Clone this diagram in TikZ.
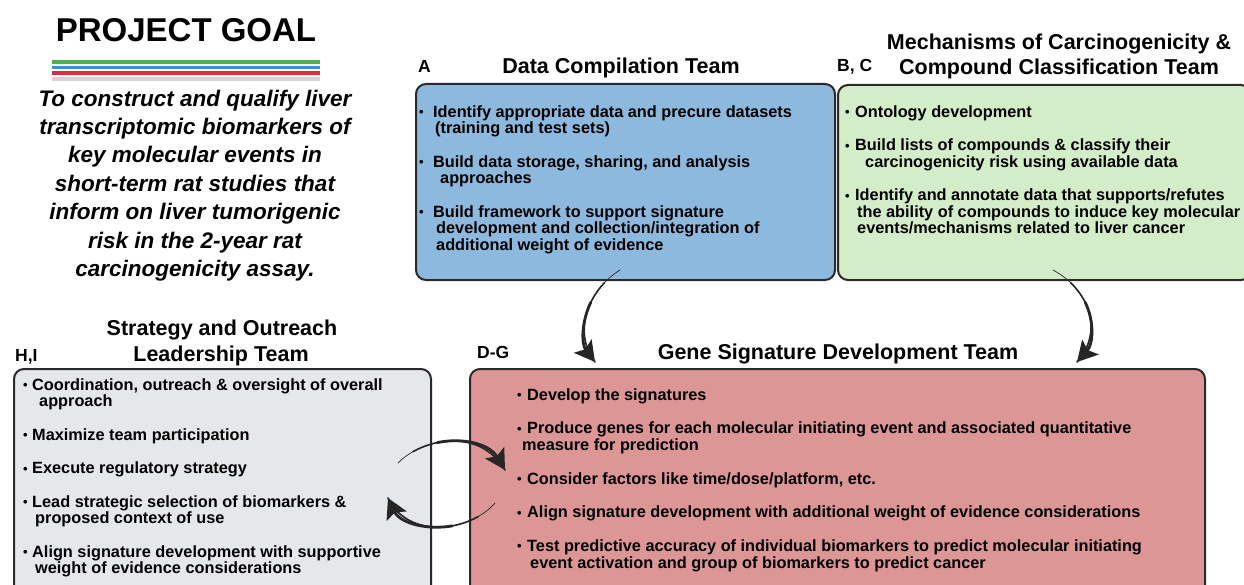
\documentclass[tikz,border=0pt]{standalone}
\usepackage{fontspec}
\setmainfont{Liberation Sans}
\usetikzlibrary{arrows.meta,calc}
\definecolor{colA}{HTML}{8DB9DE}
\definecolor{colB}{HTML}{D3EDC8}
\definecolor{colH}{HTML}{E6E7EA}
\definecolor{colD}{HTML}{DD9696}
\definecolor{edgec}{HTML}{2A2A2A}
\definecolor{arrowc}{HTML}{262626}
\definecolor{lineG}{HTML}{4CAF50}
\definecolor{lineB}{HTML}{428CD6}
\definecolor{lineR}{HTML}{D03438}
\definecolor{lineY}{HTML}{D2D2D7}
\newcommand{\bulit}[1]{\makebox[#1][l]{\raisebox{0.6pt}{\fontsize{13}{13}\selectfont •}}}
\newcommand{\indt}[1]{\hspace*{#1}}
\newcommand{\firstl}{\rule{0pt}{13pt}}
\tikzset{
  teambox/.style={draw=edgec, line width=2pt, rounded corners=10pt, anchor=north west, inner sep=0pt},
  bodytext/.style={anchor=north west, inner sep=0pt, align=left, font=\fontsize{16.3}{16.5}\selectfont\bfseries},
  titletext/.style={anchor=base, inner sep=0pt, font=\fontsize{21.5}{25}\selectfont\bfseries},
  lettertext/.style={anchor=base west, inner sep=0pt, font=\fontsize{17.5}{20}\selectfont\bfseries},
  goalline/.style={line width=3.5pt},
  thinpart/.style={draw=arrowc, line width=0.7pt, line cap=round},
  midpart/.style={draw=arrowc, line width=1.6pt, line cap=round},
  thickpart/.style={draw=arrowc, line width=2.8pt, line cap=round, -{Stealth[length=20pt,width=22pt,inset=4pt]}},
}
% draw the part of the cubic #1 #2 #3 #4 from fraction #5 to its end, in style #6
\newcommand{\subcurve}[6]{%
  \path ($(#1)!#5!(#2)$) coordinate (q01) ($(#2)!#5!(#3)$) coordinate (q12) ($(#3)!#5!(#4)$) coordinate (q23);
  \path ($(q01)!#5!(q12)$) coordinate (q012) ($(q12)!#5!(q23)$) coordinate (q123);
  \path ($(q012)!#5!(q123)$) coordinate (q0123);
  \draw[#6] (q0123) .. controls (q123) and (q23) .. (#4);
}
\newcommand{\taper}[4]{%
  \draw[thinpart] (#1) .. controls (#2) and (#3) .. (#4);
  \subcurve{#1}{#2}{#3}{#4}{0.18}{midpart}
  \subcurve{#1}{#2}{#3}{#4}{0.4}{thickpart}
}
\begin{document}
\begin{tikzpicture}[x=1pt,y=-1pt]
\useasboundingbox (0,0) rectangle (1244,585);
\fill[white] (0,0) rectangle (1244,585);

% project goal
\node[inner sep=0pt, font=\fontsize{33}{36}\selectfont\bfseries] (goaltitle) at (186,30) {PROJECT GOAL};
\draw[goalline, lineG] (52,62) -- (320,62);
\draw[goalline, lineB] (52,67.5) -- (320,67.5);
\draw[goalline, lineR] (52,73) -- (320,73);
\draw[goalline, lineY] (52,79) -- (320,79);
\node[anchor=north, inner sep=0pt, align=center, font=\fontsize{22.5}{28.4}\selectfont\bfseries\itshape] (goaltext) at (195,88)
 {\rule{0pt}{18pt}To construct and qualify liver\\
  transcriptomic biomarkers of\\
  key molecular events in\\
  short-term rat studies that\\
  inform on liver tumorigenic\\
  risk in the 2-year rat\\
  carcinogenicity assay.};

% boxes
\node[teambox, fill=colA, minimum width=419pt, minimum height=196pt] (boxA) at (415,83) {};
\node[teambox, fill=colB, minimum width=413pt, minimum height=195pt] (boxB) at (837,84) {};
\node[teambox, fill=colH, minimum width=417pt, minimum height=230pt] (boxH) at (13,368) {};
\node[teambox, fill=colD, minimum width=735pt, minimum height=230pt] (boxD) at (469,368) {};

% titles
\node[lettertext] (labA) at (418,73) {A};
\node[titletext] (titleA) at (621,73.5) {Data Compilation Team};
\node[lettertext] (labB) at (837,72) {B, C};
\node[titletext] (titleB1) at (1059,49.5) {Mechanisms of Carcinogenicity \&};
\node[titletext] (titleB2) at (1059,74.5) {Compound Classification Team};
\node[lettertext] (labH) at (15,361) {H,I};
\node[titletext] (titleH1) at (222,335) {Strategy and Outreach};
\node[titletext] (titleH2) at (221,361) {Leadership Team};
\node[lettertext] (labD) at (477,358) {D-G};
\node[titletext] (titleD) at (838,359.5) {Gene Signature Development Team};

% body texts
\node[bodytext] (textA) at (419,104) {%
\firstl\bulit{14pt}Identify appropriate data and precure datasets\\
\indt{16pt}(training and test sets)\\[17pt]
\bulit{14pt}Build data storage, sharing, and analysis\\
\indt{21pt}approaches\\[17pt]
\bulit{14pt}Build framework to support signature\\
\indt{17pt}development and collection/integration of\\
\indt{17pt}additional weight of evidence};

\node[bodytext] (textB) at (845,104) {%
\firstl\bulit{10pt}Ontology development\\[17pt]
\bulit{10pt}Build lists of compounds \& classify their\\
\indt{20pt}carcinogenicity risk using available data\\[17pt]
\bulit{10pt}Identify and annotate data that supports/refutes\\
\indt{12pt}the ability of compounds to induce key molecular\\
\indt{12pt}events/mechanisms related to liver cancer};

\node[bodytext] (textH) at (23,377) {%
\firstl\bulit{9pt}Coordination, outreach \& oversight of overall\\
\indt{16pt}approach\\[17pt]
\bulit{9pt}Maximize team participation\\[17pt]
\bulit{9pt}Execute regulatory strategy\\[17pt]
\bulit{9pt}Lead strategic selection of biomarkers \&\\
\indt{12pt}proposed context of use\\[17pt]
\bulit{9pt}Align signature development with supportive\\
\indt{12pt}weight of evidence considerations};

\node[bodytext, font=\fontsize{16.3}{17}\selectfont\bfseries] (textD) at (517,387) {%
\firstl\bulit{10pt}Develop the signatures\\[16.5pt]
\bulit{10pt}Produce genes for each molecular initiating event and associated quantitative\\
\indt{5pt}measure for prediction\\[16.5pt]
\bulit{10pt}Consider factors like time/dose/platform, etc.\\[16.5pt]
\bulit{10pt}Align signature development with additional weight of evidence considerations\\[16.5pt]
\bulit{10pt}Test predictive accuracy of individual biomarkers to predict molecular initiating\\
\indt{13pt}event activation and group of biomarkers to predict cancer};

% arrows
\coordinate (s1) at (620,270); \coordinate (c1a) at (588,290); \coordinate (c1b) at (572,332); \coordinate (t1) at (595,362);
\coordinate (s2) at (1053,270); \coordinate (c2a) at (1090,290); \coordinate (c2b) at (1104,332); \coordinate (t2) at (1077,362);
\coordinate (s3) at (398,463); \coordinate (c3a) at (420,440); \coordinate (c3b) at (478,425); \coordinate (t3) at (505,470);
\coordinate (s4) at (495,503); \coordinate (c4a) at (470,532); \coordinate (c4b) at (408,540); \coordinate (t4) at (388,498);
\taper{s1}{c1a}{c1b}{t1}
\taper{s2}{c2a}{c2b}{t2}
\taper{s3}{c3a}{c3b}{t3}
\taper{s4}{c4a}{c4b}{t4}
\end{tikzpicture}
\end{document}
